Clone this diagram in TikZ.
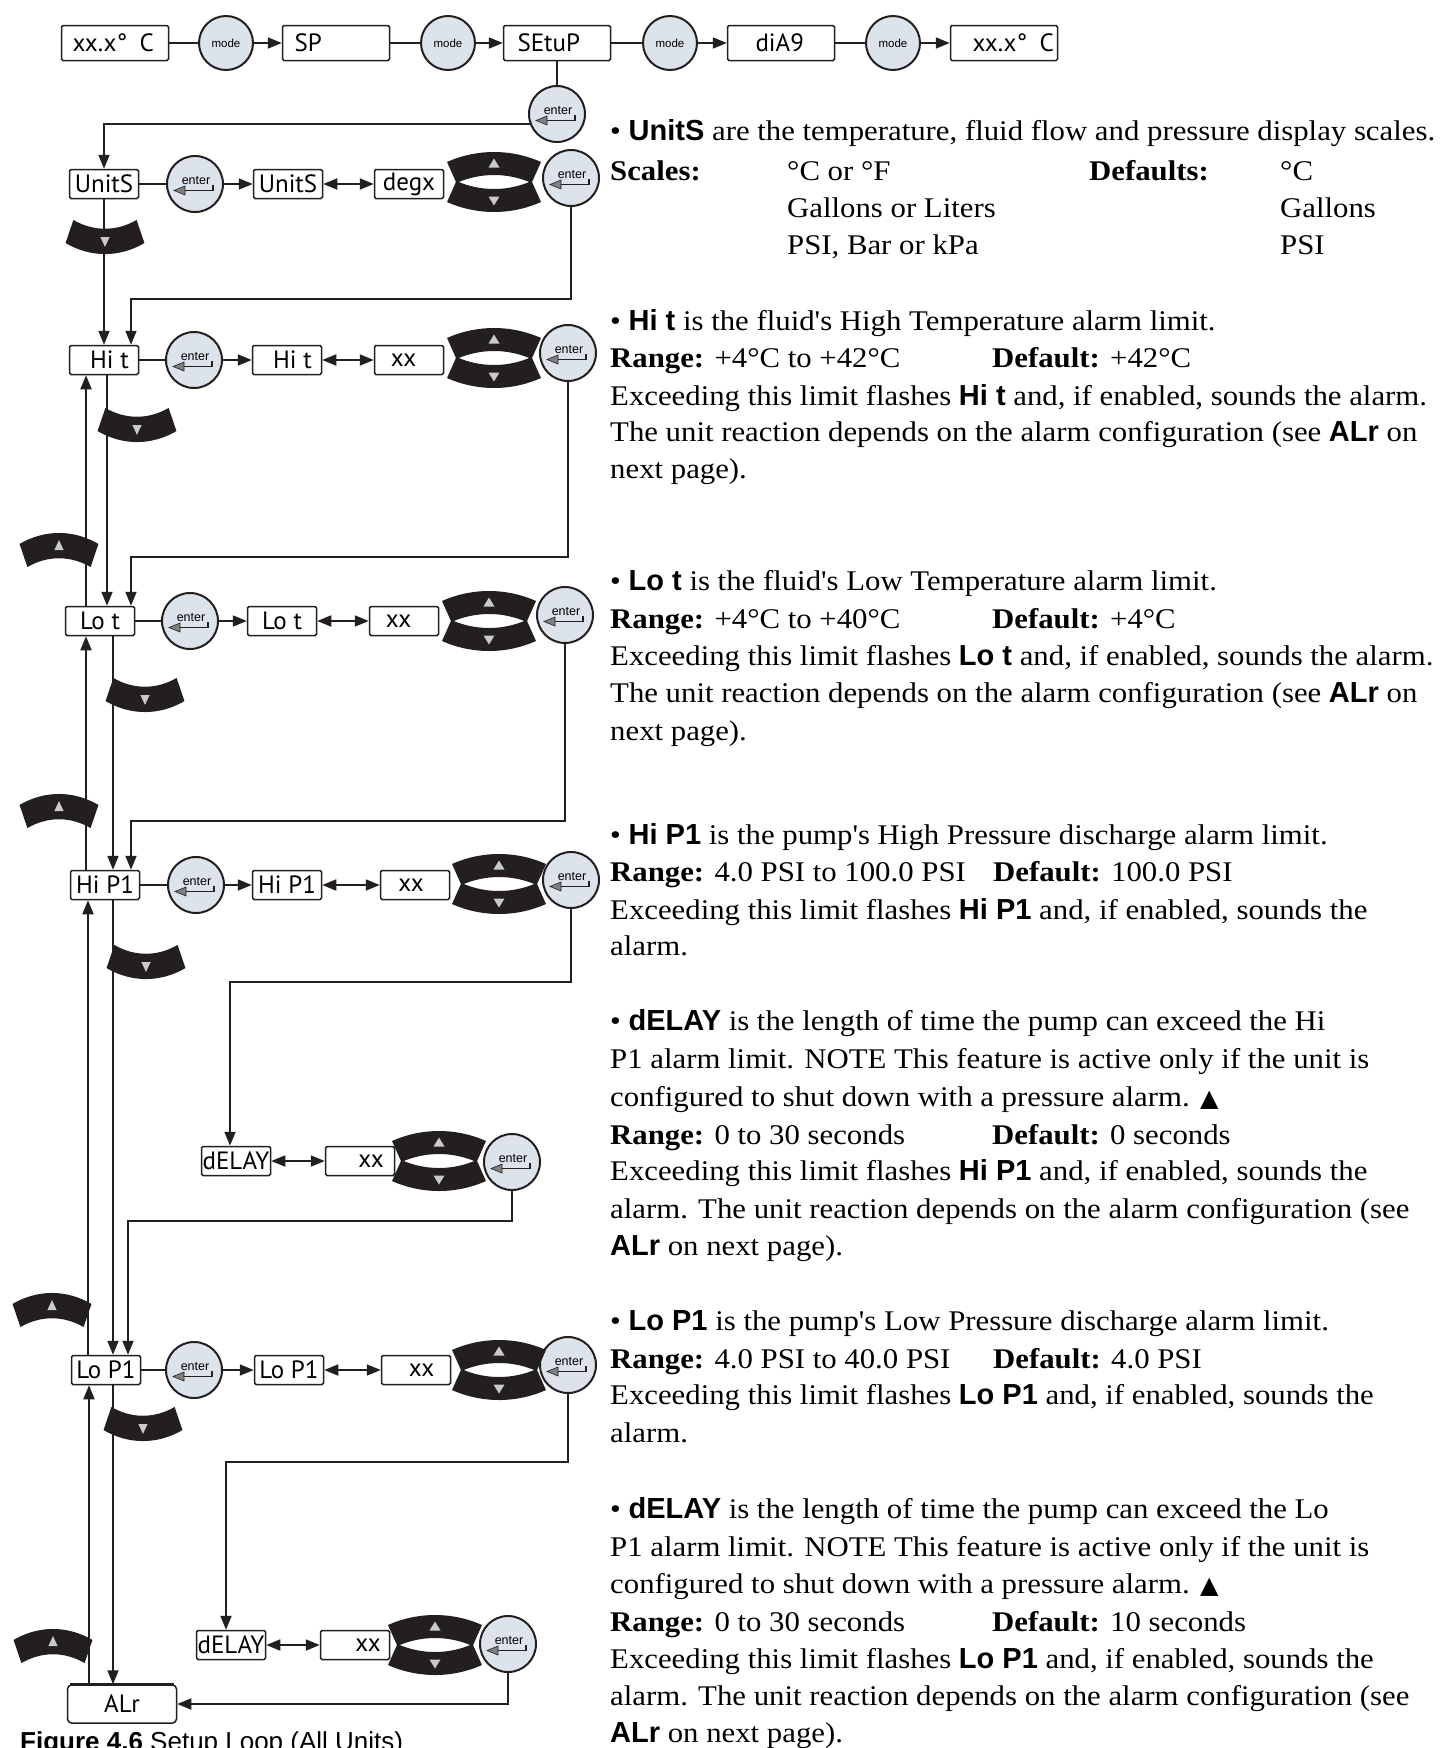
\documentclass[tikz,border=0pt]{standalone}
\usepackage{fontspec}
\setmainfont{Liberation Serif}
\newfontfamily\bodyfont[FakeStretch=1.08]{Liberation Serif}
\newfontfamily\kwfont{Liberation Sans}
\newfontfamily\dispfont{PT Sans}
\newfontfamily\symfont{DejaVu Sans}
\usetikzlibrary{arrows.meta,calc}
\definecolor{ink}{HTML}{231F20}
\definecolor{btnfill}{HTML}{DCE3EA}
\definecolor{trigray}{HTML}{C9CACC}
\definecolor{headgray}{HTML}{808080}
\newcommand{\kw}[1]{{\kwfont\bfseries\fontsize{29}{37}\selectfont #1}}
\newcommand{\tri}{{\symfont\fontsize{24}{24}\selectfont ▲}}
\tikzset{
  conn/.style={draw=ink, line width=1.8pt},
  arr/.style={conn, -{Triangle[length=14pt,width=11pt]}},
  darr/.style={conn, {Triangle[length=14pt,width=11pt]}-{Triangle[length=14pt,width=11pt]}},
  dbox/.style={draw=ink, line width=1.5pt, rounded corners=1.5pt, minimum width=69pt, minimum height=29pt, inner sep=0pt, fill=white, font=\dispfont\fontsize{25}{25}\selectfont},
  topbox/.style={draw=ink, line width=1.5pt, rounded corners=1.5pt, minimum height=35pt, text width=91pt, inner xsep=8pt, inner ysep=0pt, align=left, fill=white, font=\dispfont\fontsize{25}{25}\selectfont},
  entc/.style={circle, draw=ink, line width=2pt, fill=btnfill, minimum size=56pt, inner sep=0pt},
  modec/.style={circle, draw=ink, line width=2pt, fill=btnfill, minimum size=54pt, inner sep=0pt, font=\kwfont\fontsize{11.5}{12}\selectfont},
  txt/.style={anchor=base west, inner sep=0pt, font=\bodyfont\fontsize{28.5}{37}\selectfont},
  single/.style={xscale=0.84, yscale=1.1},
  pics/entericon/.style={code={
    \node[inner sep=0pt, anchor=base, font=\kwfont\fontsize{12.5}{13}\selectfont] at (1,0) {enter};
    \draw[ink, line width=1.4pt] (-11,6.5) -- (18,6.5) -- (18,0.5);
    \filldraw[draw=ink, fill=headgray, line width=0.6pt] (-21,6.5) -- (-10,2) -- (-10,11) -- cycle;
  }},
  pics/upbtn/.style={code={
    \begin{scope}[#1]
    \fill[ink, shift={(0,104)}] (-114:115.5) arc[start angle=-114,end angle=-66,radius=115.5] -- (-66:92.5) arc[start angle=-66,end angle=-114,radius=92.5] -- cycle;
    \fill[trigray] (-5.5,4) -- (5.5,4) -- (0,-5) -- cycle;
    \end{scope}
  }},
  pics/upbtn/.default={},
  pics/dnbtn/.style={code={
    \begin{scope}[#1]
    \fill[ink, shift={(0,-104)}] (66:115.5) arc[start angle=66,end angle=114,radius=115.5] -- (114:92.5) arc[start angle=114,end angle=66,radius=92.5] -- cycle;
    \fill[trigray] (-5.5,-4) -- (5.5,-4) -- (0,5) -- cycle;
    \end{scope}
  }},
  pics/dnbtn/.default={},
  pics/pairbtn/.style={code={
    \pic at (0,-18.5) {upbtn};
    \pic at (0,18.5) {dnbtn};
  }}
}
\begin{document}
\begin{tikzpicture}[x=1pt,y=-1pt]
\fill[white] (0,0) rectangle (1440,1748);
\useasboundingbox (0,0) rectangle (1440,1748);

% ---------- top row ----------
\node[topbox] (b1) at (115,43) {\hspace*{3pt}xx.x°~\,C};
\node[modec] (m1) at (226,43) {mode};
\node[topbox] (b2) at (336,43) {\hspace*{4pt}SP};
\node[modec] (m2) at (448,43) {mode};
\node[topbox] (b3) at (557,43) {\hspace*{6pt}SEtuP};
\node[modec] (m3) at (670,43) {mode};
\node[topbox] (b4) at (781,43) {\hspace*{20pt}diA9};
\node[modec] (m4) at (893,43) {mode};
\node[topbox] (b5) at (1004,43) {\hspace*{14pt}xx.x°~\,C};
\node[entc] (e0) at (557,114) {};

% ---------- UnitS row ----------
\node[dbox] (units) at (104,184) {UnitS};
\node[entc] (ue) at (195,184) {};
\node[dbox] (units2) at (288,184) {UnitS};
\node[dbox] (degx) at (409,184) {degx};
\node[entc] (ure) at (571,178) {};

% ---------- Hi t row ----------
\node[dbox] (hit) at (104,360) {\hspace*{11pt}Hi t};
\node[entc] (he) at (194,360) {};
\node[dbox] (hit2) at (287,360) {\hspace*{11pt}Hi t};
\node[dbox] (hxx) at (409,360) {xx\hspace*{11pt}};
\node[entc] (hre) at (568,353) {};

% ---------- Lo t row ----------
\node[dbox] (lot) at (100,621) {Lo t};
\node[entc] (le) at (190,621) {};
\node[dbox] (lot2) at (282,621) {Lo t};
\node[dbox] (lxx) at (404,621) {xx\hspace*{11pt}};
\node[entc] (lre) at (565,615) {};

% ---------- Hi P1 row ----------
\node[dbox] (hip1) at (105,885) {Hi P1};
\node[entc] (pe) at (196,885) {};
\node[dbox] (hip12) at (287,885) {Hi P1};
\node[dbox] (pxx) at (415,885) {xx\hspace*{8pt}};
\node[entc] (pre) at (571,880) {};

% ---------- dELAY (Hi P1) row ----------
\node[dbox] (d1) at (236,1161) {dELAY};
\node[dbox] (d1xx) at (360,1161) {\hspace*{22pt}xx};
\node[entc] (d1e) at (512,1162) {};

% ---------- Lo P1 row ----------
\node[dbox] (lop1) at (106,1370) {Lo P1};
\node[entc] (qe) at (194,1370) {};
\node[dbox] (lop12) at (289,1370) {Lo P1};
\node[dbox] (qxx) at (416,1370) {\hspace*{11pt}xx};
\node[entc] (qre) at (568,1365) {};

% ---------- dELAY (Lo P1) row ----------
\node[dbox] (d2) at (231,1645) {dELAY};
\node[dbox] (d2xx) at (355,1645) {\hspace*{26pt}xx};
\node[entc] (d2e) at (508,1644) {};

% ---------- ALr ----------
\node[dbox, minimum width=109pt, minimum height=38pt, rounded corners=4pt] (alr) at (122,1704) {ALr};
\draw[ink, line width=3pt] ([xshift=3pt]alr.north west) -- ([xshift=-3pt]alr.north east);

% enter icons
\foreach \n in {e0,ue,ure,he,hre,le,lre,pe,pre,d1e,qe,qre,d2e} { \pic at (\n) {entericon}; }

% up/down button pairs
\pic at (494,182) {pairbtn};
\pic at (494,358) {pairbtn};
\pic at (489,621) {pairbtn};
\pic at (499,884) {pairbtn};
\pic at (439,1161) {pairbtn};
\pic at (499,1370) {pairbtn};
\pic at (435,1645) {pairbtn};

% ---------- connectors: top row ----------
\draw[conn] (b1) -- (m1); \draw[arr] (m1) -- (b2);
\draw[conn] (b2) -- (m2); \draw[arr] (m2) -- (b3);
\draw[conn] (b3) -- (m3); \draw[arr] (m3) -- (b4);
\draw[conn] (b4) -- (m4); \draw[arr] (m4) -- (b5);
\draw[conn] (b3) -- (e0);
\draw[arr] (e0.200) -| (units.north);

% ---------- connectors: rows ----------
\draw[conn] (units) -- (ue); \draw[arr] (ue) -- (units2); \draw[darr] (units2) -- (degx);
\draw[conn] (hit) -- (he); \draw[arr] (he) -- (hit2); \draw[darr] (hit2) -- (hxx);
\draw[conn] (lot) -- (le); \draw[arr] (le) -- (lot2); \draw[darr] (lot2) -- (lxx);
\draw[conn] (hip1) -- (pe); \draw[arr] (pe) -- (hip12); \draw[darr] (hip12) -- (pxx);
\draw[darr] (d1) -- (d1xx);
\draw[conn] (lop1) -- (qe); \draw[arr] (qe) -- (lop12); \draw[darr] (lop12) -- (qxx);
\draw[darr] (d2) -- (d2xx);

% ---------- connectors: left column ----------
\draw[arr] (units.south) -- (hit.north);
\draw[arr] (ure.south) |- ([xshift=27pt,yshift=45.5pt]hit.north) -- ([xshift=27pt]hit.north);
\draw[arr] ([xshift=3pt]hit.south) -- ([xshift=3pt]hit.south |- lot.north);
\draw[arr] ([xshift=-18pt]hit.south |- lot.north) -- ([xshift=-18pt]hit.south);
\draw[arr] (hre.south) |- ([xshift=31pt,yshift=48.5pt]lot.north) -- ([xshift=31pt]lot.north);
\draw[arr] ([xshift=13pt]lot.south) -- ([xshift=13pt]lot.south |- hip1.north);
\draw[arr] ([xshift=-14pt]lot.south |- hip1.north) -- ([xshift=-14pt]lot.south);
\draw[arr] (lre.south) |- ([xshift=26pt,yshift=48.5pt]hip1.north) -- ([xshift=26pt]hip1.north);
\draw[arr] ([xshift=8pt]hip1.south) -- ([xshift=8pt]hip1.south |- lop1.north);
\draw[arr] ([xshift=-17pt]hip1.south |- lop1.north) -- ([xshift=-17pt]hip1.south);
\draw[arr] (pre.south) |- ([xshift=-6pt,yshift=163.5pt]d1.north) -- ([xshift=-6pt]d1.north);
\draw[arr] (d1e.south) |- ([xshift=22pt,yshift=133.5pt]lop1.north) -- ([xshift=22pt]lop1.north);
\draw[arr] ([xshift=7pt]lop1.south) -- ([xshift=7pt]lop1.south |- alr.north);
\draw[arr] ([xshift=-17pt]lop1.south |- alr.north) -- ([xshift=-17pt]lop1.south);
\draw[arr] (qre.south) |- ([xshift=-5pt,yshift=167.5pt]d2.north) -- ([xshift=-5pt]d2.north);
\draw[arr] (d2e.south) |- (alr.east);

% single up/down buttons on the left column
\pic at (105,241.4) {dnbtn=single};
\pic at (137,429.4) {dnbtn=single};
\pic at (145,699.4) {dnbtn=single};
\pic at (146,966.4) {dnbtn=single};
\pic at (143,1428.4) {dnbtn=single};
\pic at (59,545.6) {upbtn=single};
\pic at (59,806.6) {upbtn=single};
\pic at (52,1305.6) {upbtn=single};
\pic at (53,1641.6) {upbtn=single};

% caption
\node[anchor=base west, inner sep=0pt, font=\kwfont\fontsize{26}{26}\selectfont] (cap) at (20,1750) {\textbf{Figure 4.6} Setup Loop (All Units)};

% ---------- right column text ----------
\node[txt] (t1) at (610,140) {• \kw{UnitS} are the temperature, fluid flow and pressure display scales.};
\node[txt] (t2a) at (610,180) {\textbf{Scales:}};
\node[txt] (t2b) at (787,180) {°C or °F};
\node[txt] (t2c) at (1089,180) {\textbf{Defaults:}};
\node[txt] (t2d) at (1280,180) {°C};
\node[txt] (t3b) at (787,217) {Gallons or Liters};
\node[txt] (t3d) at (1280,217) {Gallons};
\node[txt] (t4b) at (787,254) {PSI, Bar or kPa};
\node[txt] (t4d) at (1280,254) {PSI};

\node[txt] (h1) at (610,330) {• \kw{Hi t} is the fluid's High Temperature alarm limit.};
\node[txt] (h2) at (610,367) {\textbf{Range:} +4°C to +42°C};
\node[txt] (h2b) at (992,367) {\textbf{Default:} +42°C};
\node[txt] (h3) at (610,405) {Exceeding this limit flashes \kw{Hi t} and, if enabled, sounds the alarm.};
\node[txt] (h4) at (610,441) {The unit reaction depends on the alarm configuration (see \kw{ALr} on};
\node[txt] (h5) at (610,478) {next page).};

\node[txt] (l1) at (610,590) {• \kw{Lo t} is the fluid's Low Temperature alarm limit.};
\node[txt] (l2) at (610,628) {\textbf{Range:} +4°C to +40°C};
\node[txt] (l2b) at (992,628) {\textbf{Default:} +4°C};
\node[txt] (l3) at (610,665) {Exceeding this limit flashes \kw{Lo t} and, if enabled, sounds the alarm.};
\node[txt] (l4) at (610,702) {The unit reaction depends on the alarm configuration (see \kw{ALr} on};
\node[txt] (l5) at (610,740) {next page).};

\node[txt] (p1) at (610,844) {• \kw{Hi P1} is the pump's High Pressure discharge alarm limit.};
\node[txt] (p2) at (610,881) {\textbf{Range:} 4.0 PSI to 100.0 PSI};
\node[txt] (p2b) at (993,881) {\textbf{Default:} 100.0 PSI};
\node[txt] (p3) at (610,919) {Exceeding this limit flashes \kw{Hi P1} and, if enabled, sounds the};
\node[txt] (p4) at (610,955) {alarm.};

\node[txt] (x1) at (610,1030) {• \kw{dELAY} is the length of time the pump can exceed the Hi};
\node[txt] (x2) at (610,1068) {P1 alarm limit. NOTE This feature is active only if the unit is};
\node[txt] (x3) at (610,1106) {configured to shut down with a pressure alarm. \tri};
\node[txt] (x4) at (610,1144) {\textbf{Range:} 0 to 30 seconds};
\node[txt] (x4b) at (992,1144) {\textbf{Default:} 0 seconds};
\node[txt] (x5) at (610,1180) {Exceeding this limit flashes \kw{Hi P1} and, if enabled, sounds the};
\node[txt] (x6) at (610,1218) {alarm. The unit reaction depends on the alarm configuration (see};
\node[txt] (x7) at (610,1255) {\kw{ALr} on next page).};

\node[txt] (q1) at (610,1330) {• \kw{Lo P1} is the pump's Low Pressure discharge alarm limit.};
\node[txt] (q2) at (610,1368) {\textbf{Range:} 4.0 PSI to 40.0 PSI};
\node[txt] (q2b) at (993,1368) {\textbf{Default:} 4.0 PSI};
\node[txt] (q3) at (610,1404) {Exceeding this limit flashes \kw{Lo P1} and, if enabled, sounds the};
\node[txt] (q4) at (610,1442) {alarm.};

\node[txt] (y1) at (610,1518) {• \kw{dELAY} is the length of time the pump can exceed the Lo};
\node[txt] (y2) at (610,1556) {P1 alarm limit. NOTE This feature is active only if the unit is};
\node[txt] (y3) at (610,1593) {configured to shut down with a pressure alarm. \tri};
\node[txt] (y4) at (610,1631) {\textbf{Range:} 0 to 30 seconds};
\node[txt] (y4b) at (992,1631) {\textbf{Default:} 10 seconds};
\node[txt] (y5) at (610,1668) {Exceeding this limit flashes \kw{Lo P1} and, if enabled, sounds the};
\node[txt] (y6) at (610,1705) {alarm. The unit reaction depends on the alarm configuration (see};
\node[txt] (y7) at (610,1742) {\kw{ALr} on next page).};
\end{tikzpicture}
\end{document}
